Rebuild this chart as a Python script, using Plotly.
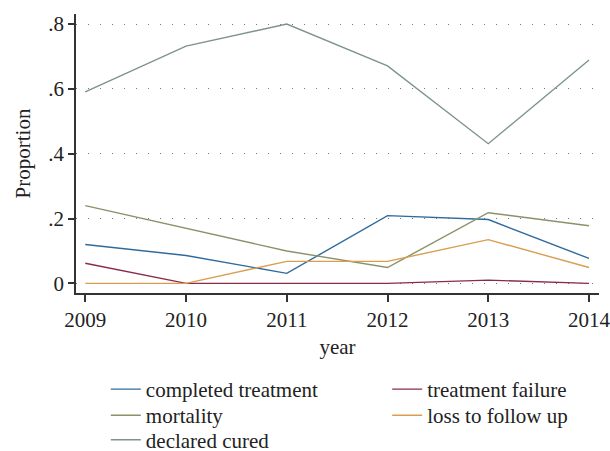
import plotly.graph_objects as go

years = [2009, 2010, 2011, 2012, 2013, 2014]
completed_treatment = [0.12, 0.086, 0.031, 0.209, 0.197, 0.077]
treatment_failure = [0.062, 0.0, 0.0, 0.0, 0.01, 0.0]
mortality = [0.24, 0.17, 0.10, 0.049, 0.218, 0.178]
loss_to_follow_up = [0.0, 0.0, 0.068, 0.068, 0.135, 0.049]
declared_cured = [0.591, 0.732, 0.8, 0.671, 0.431, 0.689]

series_names = ["completed treatment", "treatment failure", "mortality",
                "loss to follow up", "declared cured"]
series_values = [completed_treatment, treatment_failure, mortality,
                 loss_to_follow_up, declared_cured]
series_colors = ["#2f6a9c", "#8a2c48", "#8a9268", "#d99d50", "#7d938f"]
series_legend = ["legend", "legend2", "legend3", "legend4", "legend5"]

y_tickvals = [0, 0.2, 0.4, 0.6, 0.8]
y_ticktext = ["0", ".2", ".4", ".6", ".8"]

FONT = "Liberation Serif, DejaVu Serif, serif"
FS = 21

fig = go.Figure()
for name, vals, col, lg in zip(series_names, series_values, series_colors, series_legend):
    fig.add_trace(go.Scatter(x=years, y=vals, mode="lines", name=name, legend=lg,
                             line=dict(color=col, width=1.4)))

legend_common = dict(orientation="v", yanchor="top", xanchor="left",
                     font=dict(family=FONT, size=FS, color="#222"),
                     tracegroupgap=0, itemwidth=30, bgcolor="rgba(0,0,0,0)")
col1, col2 = 0.057, 0.595
row1, row2, row3 = -0.2724, -0.366, -0.454

fig.update_layout(
    width=610, height=451,
    margin=dict(l=76, r=11, t=14, b=158, autoexpand=False),
    paper_bgcolor="white", plot_bgcolor="white",
    font=dict(family=FONT, size=FS, color="#222"),
    showlegend=True,
    legend=dict(x=col1, y=row1, **legend_common),
    legend2=dict(x=col2, y=row1, **legend_common),
    legend3=dict(x=col1, y=row2, **legend_common),
    legend4=dict(x=col2, y=row2, **legend_common),
    legend5=dict(x=col1, y=row3, **legend_common),
)
fig.update_xaxes(
    range=[2008.908, 2014.099], tickvals=years, ticktext=[str(y) for y in years],
    showline=True, linecolor="#333", linewidth=1.5,
    ticks="outside", ticklen=7, tickcolor="#333", tickwidth=1.5,
    showgrid=False, zeroline=False, ticklabeloverflow="allow",
    title=dict(text="year", font=dict(family=FONT, size=FS), standoff=8),
)
fig.update_yaxes(
    range=[-0.0296, 0.831], tickvals=y_tickvals, ticktext=y_ticktext,
    showline=True, linecolor="#333", linewidth=1.5,
    ticks="outside", ticklen=6, tickcolor="#333", tickwidth=1.5,
    showgrid=True, gridcolor="#777", gridwidth=1.2, griddash="1px,11px",
    zeroline=False,
    title=dict(text="Proportion", font=dict(family=FONT, size=FS), standoff=12),
)

fig.write_html("out.html", config={"displayModeBar": False},
               post_script="document.body.style.margin='0';")
